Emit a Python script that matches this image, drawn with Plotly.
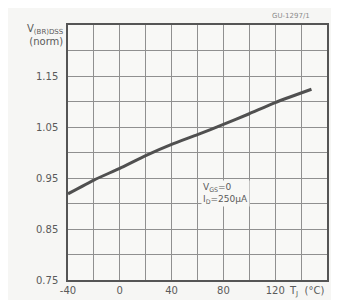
import plotly.graph_objects as go

# Data
tj = [-40, -20, 0, 20, 40, 60, 80, 100, 120, 148]
vbr_norm = [0.919, 0.946, 0.969, 0.994, 1.016, 1.035, 1.055, 1.076, 1.098, 1.124]

x_ticks = [-40, 0, 40, 80, 120]
x_tick_labels = ["-40", "0", "40", "80", "120"]
y_ticks = [0.75, 0.85, 0.95, 1.05, 1.15]
y_tick_labels = ["0.75", "0.85", "0.95", "1.05", "1.15"]

FONT = "DejaVu Sans"
TXT = "#5a5a5a"
GRID = "#909090"

fig = go.Figure()
fig.add_trace(go.Scatter(
    x=tj, y=vbr_norm, mode="lines",
    line=dict(color="#505050", width=3, shape="spline", smoothing=0.4),
    hoverinfo="skip", showlegend=False,
))

fig.update_layout(
    width=339, height=300,
    margin=dict(l=60, r=20, t=17, b=23),
    paper_bgcolor="#f6f6f4",
    plot_bgcolor="#f8f8f6",
    font=dict(family=FONT, size=10, color=TXT),
    showlegend=False,
)

fig.update_xaxes(
    range=[-40, 160], tickvals=x_ticks, ticktext=x_tick_labels,
    showgrid=True, gridcolor=GRID, gridwidth=1,
    minor=dict(tick0=-40, dtick=20, showgrid=True, gridcolor=GRID, gridwidth=1),
    showline=True, linecolor="#555555", linewidth=1.5, mirror=True,
    zeroline=False, ticks="", tickfont=dict(size=10, color=TXT),
)
fig.update_yaxes(
    range=[0.75, 1.25], tickvals=y_ticks, ticktext=y_tick_labels,
    showgrid=True, gridcolor=GRID, gridwidth=1,
    minor=dict(tick0=0.75, dtick=0.05, showgrid=True, gridcolor=GRID, gridwidth=1),
    showline=True, linecolor="#555555", linewidth=1.5, mirror=True,
    zeroline=False, ticks="", ticklabelstandoff=6, tickfont=dict(size=10, color=TXT),
)

# Y-axis title at top-left
fig.add_annotation(
    xref="paper", yref="paper", x=0, y=1, xanchor="right", yanchor="top",
    xshift=-2, yshift=4, align="right", showarrow=False,
    text="V<sub>(BR)DSS</sub><br>(norm)", font=dict(size=10, color=TXT),
)
# X-axis title
fig.add_annotation(
    xref="x", yref="paper", x=144, y=0, xanchor="center", yanchor="top",
    yshift=-3, showarrow=False,
    text="T<sub>J</sub>  (°C)", font=dict(size=10, color=TXT),
)
# Conditions
fig.add_annotation(
    xref="x", yref="y", x=62.5, y=0.92, xanchor="left", yanchor="middle",
    showarrow=False, align="left", bgcolor="#f8f8f6", borderpad=1,
    text="V<sub>GS</sub>=0<br>I<sub>D</sub>=250\u00b5A", font=dict(size=9, color=TXT),
)
# Figure code
fig.add_annotation(
    xref="paper", yref="paper", x=0.86, y=1, xanchor="center", yanchor="bottom",
    yshift=3, showarrow=False, text="GU-1297/1", font=dict(size=7, color="#8a8a8a"),
)

fig.write_html("out.html")
